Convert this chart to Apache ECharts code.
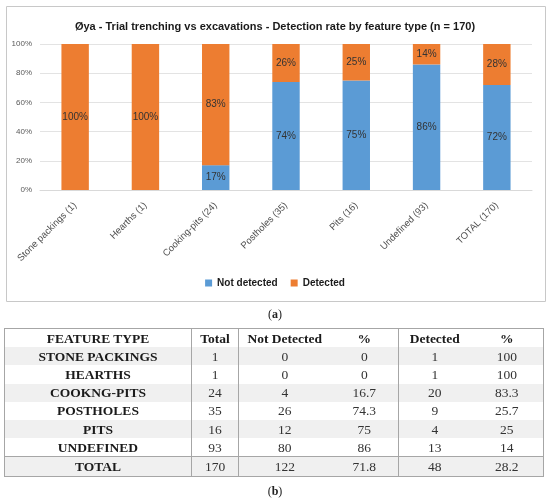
<!DOCTYPE html>
<html>
<head>
<meta charset="utf-8">
<script src="https://cdn.jsdelivr.net/npm/echarts@6/dist/echarts.min.js"></script>
<style>
  html, body { margin: 0; padding: 0; background: #fff; }
  #wrap { position: relative; width: 550px; height: 503px; overflow: hidden; }
  #chart { position: absolute; left: 0; top: 0; width: 550px; height: 330px; }
  #tbl { position: absolute; left: 4px; top: 328px; border-collapse: collapse; table-layout: fixed;
         font-family: "Liberation Serif", "DejaVu Serif", serif; font-size: 13.5px; color: #1a1a1a;
         border: 1px solid #a6a6a6; }
  #tbl td { height: 18.2px; padding: 0; text-align: center; line-height: 17px; white-space: nowrap; }
  #tbl tr.g td { background: #f0f0f0; }
  #tbl td.b { font-weight: bold; }
  #tbl td.n { color: #333; }
  #tbl td.vl { border-right: 1px solid #a6a6a6; }
  #tbl tr.tot td { border-top: 1px solid #a6a6a6; }
  .cap { position: absolute; width: 550px; text-align: center; font-family: "Liberation Serif", serif;
         font-size: 12px; color: #222; }
</style>
</head>
<body>
<div id="wrap">
  <div id="chart"></div>
  <div class="cap" style="top:307px;">(<b>a</b>)</div>
  <table id="tbl"></table>
  <div class="cap" style="top:484px;">(<b>b</b>)</div>
</div>
<script>
// ---- chart data ----
const categories = ['Stone packings (1)', 'Hearths (1)', 'Cooking-pits (24)', 'Postholes (35)', 'Pits (16)', 'Undefined (93)', 'TOTAL (170)'];
const notDetected = [0, 0, 17, 74, 75, 86, 72];
const detected = [100, 100, 83, 26, 25, 14, 28];
const titleText = 'Øya - Trial trenching vs excavations - Detection rate by feature type (n = 170)';

// ---- table data ----
const tableHeader = ['FEATURE TYPE', 'Total', 'Not Detected', '%', 'Detected', '%'];
const featureTypes = ['STONE PACKINGS', 'HEARTHS', 'COOKNG-PITS', 'POSTHOLES', 'PITS', 'UNDEFINED', 'TOTAL'];
const totals = ['1', '1', '24', '35', '16', '93', '170'];
const notDetCounts = ['0', '0', '4', '26', '12', '80', '122'];
const notDetPct = ['0', '0', '16.7', '74.3', '75', '86', '71.8'];
const detCounts = ['1', '1', '20', '9', '4', '13', '48'];
const detPct = ['100', '100', '83.3', '25.7', '25', '14', '28.2'];

// build table
const colW = [187, 47, 92, 68, 72, 73];
const tbl = document.getElementById('tbl');
let html = '<colgroup>' + colW.map(w => '<col style="width:' + w + 'px">').join('') + '</colgroup>';
const vlCols = [0, 1, 3];
function rowHtml(cells, cls, boldAll) {
  return '<tr class="' + cls + '">' + cells.map((c, i) => {
    const k = [];
    if (boldAll || i === 0) k.push('b'); else k.push('n');
    if (vlCols.includes(i)) k.push('vl');
    return '<td class="' + k.join(' ') + '">' + c + '</td>';
  }).join('') + '</tr>';
}
html += rowHtml(tableHeader, '', true);
featureTypes.forEach((f, i) => {
  let cls = (i % 2 === 0) ? 'g' : '';
  if (i === featureTypes.length - 1) cls += ' tot';
  html += rowHtml([f, totals[i], notDetCounts[i], notDetPct[i], detCounts[i], detPct[i]], cls, false);
});
tbl.innerHTML = html;

// chart
const chart = echarts.init(document.getElementById('chart'), null, { renderer: 'canvas' });
const labelFmt = p => (p.value ? p.value + '%' : '');
const labelCfg = { show: true, position: 'inside', color: '#333', fontSize: 10,
  fontFamily: 'Liberation Sans, Arial, sans-serif', formatter: labelFmt };
chart.setOption({
  animation: false,
  title: {
    text: titleText, left: 'center', top: 16,
    textStyle: { fontFamily: 'Liberation Sans, sans-serif', fontWeight: 'bold', fontSize: 11, color: '#1a1a1a' }
  },
  graphic: [{
    type: 'rect', left: 4, top: 4, shape: { width: 539, height: 295 },
    style: { fill: 'none', stroke: '#c8c8c8', lineWidth: 1 }, silent: true, z: -10
  }],
  legend: {
    data: ['Not detected', 'Detected'], bottom: 37, left: 'center', itemWidth: 7, itemHeight: 7, itemGap: 13,
    icon: 'rect',
    textStyle: { fontFamily: 'Liberation Sans, sans-serif', fontWeight: 'bold', fontSize: 10, color: '#1a1a1a' }
  },
  grid: { left: 40, right: 18, top: 44, bottom: 140 },
  xAxis: {
    type: 'category', data: categories,
    axisTick: { show: false },
    axisLine: { lineStyle: { color: '#d9d9d9' } },
    axisLabel: { rotate: 45, fontSize: 9.5, color: '#505050', interval: 0, margin: 14,
      fontFamily: 'Liberation Sans, Arial, sans-serif' }
  },
  yAxis: {
    type: 'value', min: 0, max: 100, interval: 20,
    axisLine: { show: false }, axisTick: { show: false },
    splitLine: { lineStyle: { color: '#e3e3e3' } },
    axisLabel: { formatter: '{value}%', fontSize: 8, color: '#595959', margin: 8,
      fontFamily: 'Liberation Sans, Arial, sans-serif' }
  },
  series: [
    { name: 'Not detected', type: 'bar', stack: 's', data: notDetected, barWidth: '39%',
      itemStyle: { color: '#5B9BD5' }, label: labelCfg },
    { name: 'Detected', type: 'bar', stack: 's', data: detected, barWidth: '39%',
      itemStyle: { color: '#ED7D31' }, label: labelCfg }
  ]
});
</script>
</body>
</html>
